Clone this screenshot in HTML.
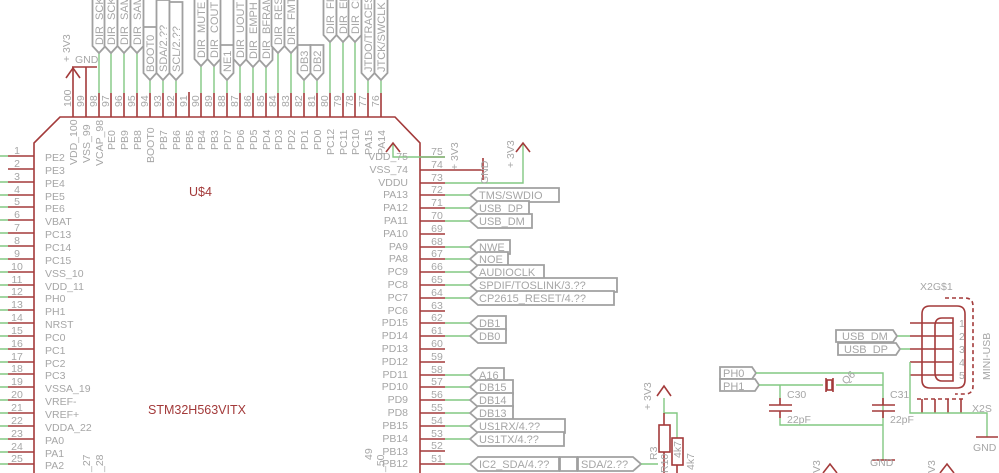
<!DOCTYPE html>
<html><head><meta charset="utf-8"><style>
html,body{margin:0;padding:0;background:#fff;}
svg{display:block;font-family:"Liberation Sans",sans-serif;}
.t{fill:#a6a6a6;font-size:10.5px;}
.n{fill:#a6a6a6;font-size:10.5px;}
.r{stroke:#a33a3a;stroke-width:1.6;fill:none;}
.g{stroke:#82c882;stroke-width:1.4;fill:none;}
.f{stroke:#a0a0a0;stroke-width:1.8;fill:#fff;}
.ft{fill:#a6a6a6;font-size:11px;}
.rt{fill:#a33a3a;font-size:12.5px;}
</style></head><body>
<svg width="999" height="473" viewBox="0 0 999 473" xmlns="http://www.w3.org/2000/svg">
<polyline class="r" points="34,473 34,143 60,117 395,117 420,143 420,473"/>

<g>
<path class="g" d="M0,156H8M0,182H8M0,195H8M0,207H8M0,220H8M0,233H8M0,246H8M0,259H8M0,272H8M0,285H8M0,297H8M0,310H8M0,323H8M0,336H8M0,349H8M0,362H8M0,374H8M0,387H8M0,400H8M0,413H8M0,426H8M0,439H8M0,452H8M0,464H8"/>
<path class="r" d="M8,156H34M8,169H34M8,182H34M8,195H34M8,207H34M8,220H34M8,233H34M8,246H34M8,259H34M8,272H34M8,285H34M8,297H34M8,310H34M8,323H34M8,336H34M8,349H34M8,362H34M8,374H34M8,387H34M8,400H34M8,413H34M8,426H34M8,439H34M8,452H34M8,464H34"/>
<g class="n" text-anchor="middle">
<text x="17" y="154">1</text><text x="17" y="167">2</text><text x="17" y="180">3</text><text x="17" y="193">4</text><text x="17" y="205">5</text><text x="17" y="218">6</text><text x="17" y="231">7</text><text x="17" y="244">8</text><text x="17" y="257">9</text><text x="17" y="270">10</text><text x="17" y="283">11</text><text x="17" y="295">12</text><text x="17" y="308">13</text><text x="17" y="321">14</text><text x="17" y="334">15</text><text x="17" y="347">16</text><text x="17" y="360">17</text><text x="17" y="372">18</text><text x="17" y="385">19</text><text x="17" y="398">20</text><text x="17" y="411">21</text><text x="17" y="424">22</text><text x="17" y="437">23</text><text x="17" y="450">24</text><text x="17" y="462">25</text>
</g>
<g class="t">
<text x="45" y="161">PE2</text><text x="45" y="174">PE3</text><text x="45" y="187">PE4</text><text x="45" y="200">PE5</text><text x="45" y="212">PE6</text><text x="45" y="225">VBAT</text><text x="45" y="238">PC13</text><text x="45" y="251">PC14</text><text x="45" y="264">PC15</text><text x="45" y="277">VSS_10</text><text x="45" y="290">VDD_11</text><text x="45" y="302">PH0</text><text x="45" y="315">PH1</text><text x="45" y="328">NRST</text><text x="45" y="341">PC0</text><text x="45" y="354">PC1</text><text x="45" y="367">PC2</text><text x="45" y="379">PC3</text><text x="45" y="392">VSSA_19</text><text x="45" y="405">VREF-</text><text x="45" y="418">VREF+</text><text x="45" y="431">VDDA_22</text><text x="45" y="444">PA0</text><text x="45" y="457">PA1</text><text x="45" y="469">PA2</text>
</g>
<g class="t">
<text transform="translate(90,472) rotate(-90)">_27</text>
<text transform="translate(103,472) rotate(-90)">_28</text>
<text transform="translate(372,460) rotate(-90)">49</text>
<text transform="translate(384,472) rotate(-90)">_50</text>
</g>
</g>

<path class="r" d="M73,93V117M86,93V117M99,93V117M111,93V117M124,93V117M137,93V117M150,93V117M163,93V117M176,93V117M189,93V117M201,93V117M214,93V117M227,93V117M240,93V117M253,93V117M266,93V117M278,93V117M291,93V117M304,93V117M317,93V117M330,93V117M343,93V117M355,93V117M368,93V117M381,93V117"/>
<path class="r" d="M73,93V68M86,93V67M189,93V92"/>
<path class="r" d="M66,78L73,68L80,78M72,67H97"/>
<path class="g" d="M99,53V93M111,53V93M124,53V93M137,53V93M150,80V93M163,80V93M176,80V93M201,66V93M214,66V93M227,80V93M240,66V93M253,67V93M266,67V93M278,53V93M291,53V93M304,80V93M317,80V93M330,42V93M343,42V93M355,42V93M368,80V93M381,80V93"/>
<text class="t" transform="translate(70,62) rotate(-90)">+ 3V3</text>
<text class="t" x="75" y="63">GND</text>
<g class="n">
<text transform="translate(71,107) rotate(-90)">100</text><text transform="translate(84,107) rotate(-90)">99</text><text transform="translate(97,107) rotate(-90)">98</text><text transform="translate(109,107) rotate(-90)">97</text><text transform="translate(122,107) rotate(-90)">96</text><text transform="translate(135,107) rotate(-90)">95</text><text transform="translate(148,107) rotate(-90)">94</text><text transform="translate(161,107) rotate(-90)">93</text><text transform="translate(174,107) rotate(-90)">92</text><text transform="translate(187,107) rotate(-90)">91</text><text transform="translate(199,107) rotate(-90)">90</text><text transform="translate(212,107) rotate(-90)">89</text><text transform="translate(225,107) rotate(-90)">88</text><text transform="translate(238,107) rotate(-90)">87</text><text transform="translate(251,107) rotate(-90)">86</text><text transform="translate(264,107) rotate(-90)">85</text><text transform="translate(276,107) rotate(-90)">84</text><text transform="translate(289,107) rotate(-90)">83</text><text transform="translate(302,107) rotate(-90)">82</text><text transform="translate(315,107) rotate(-90)">81</text><text transform="translate(328,107) rotate(-90)">80</text><text transform="translate(341,107) rotate(-90)">79</text><text transform="translate(353,107) rotate(-90)">78</text><text transform="translate(366,107) rotate(-90)">77</text><text transform="translate(379,107) rotate(-90)">76</text>
</g>
<g class="t">
<text transform="translate(77,165) rotate(-90)">VDD_100</text><text transform="translate(90,163) rotate(-90)">VSS_99</text><text transform="translate(103,166) rotate(-90)">VCAP_98</text><text transform="translate(115,150) rotate(-90)">PE0</text><text transform="translate(128,150) rotate(-90)">PB9</text><text transform="translate(141,150) rotate(-90)">PB8</text><text transform="translate(154,163) rotate(-90)">BOOT0</text><text transform="translate(167,150) rotate(-90)">PB7</text><text transform="translate(180,150) rotate(-90)">PB6</text><text transform="translate(193,150) rotate(-90)">PB5</text><text transform="translate(205,150) rotate(-90)">PB4</text><text transform="translate(218,150) rotate(-90)">PB3</text><text transform="translate(231,150) rotate(-90)">PD7</text><text transform="translate(244,150) rotate(-90)">PD6</text><text transform="translate(257,150) rotate(-90)">PD5</text><text transform="translate(270,150) rotate(-90)">PD4</text><text transform="translate(282,150) rotate(-90)">PD3</text><text transform="translate(295,150) rotate(-90)">PD2</text><text transform="translate(308,150) rotate(-90)">PD1</text><text transform="translate(321,150) rotate(-90)">PD0</text><text transform="translate(334,155) rotate(-90)">PC12</text><text transform="translate(347,155) rotate(-90)">PC11</text><text transform="translate(359,155) rotate(-90)">PC10</text><text transform="translate(372,155) rotate(-90)">PA15</text><text transform="translate(385,155) rotate(-90)">PA14</text>
</g>
<g class="f">
<polygon points="92.5,-2 105.5,-2 105.5,46 99,53 92.5,46"/>
<polygon points="104.5,-2 117.5,-2 117.5,46 111,53 104.5,46"/>
<polygon points="117.5,-2 130.5,-2 130.5,46 124,53 117.5,46"/>
<polygon points="130.5,-2 143.5,-2 143.5,46 137,53 130.5,46"/>
<polygon points="143.5,27 156.5,27 156.5,73 150,80 143.5,73"/>
<polygon points="156.5,0 169.5,0 169.5,73 163,80 156.5,73"/>
<polygon points="169.5,2 182.5,2 182.5,73 176,80 169.5,73"/>
<polygon points="194.5,-2 207.5,-2 207.5,59 201,66 194.5,59"/>
<polygon points="207.5,-2 220.5,-2 220.5,59 214,66 207.5,59"/>
<polygon points="220.5,45 233.5,45 233.5,73 227,80 220.5,73"/>
<polygon points="233.5,-2 246.5,-2 246.5,59 240,66 233.5,59"/>
<polygon points="246.5,-2 259.5,-2 259.5,60 253,67 246.5,60"/>
<polygon points="259.5,-2 272.5,-2 272.5,60 266,67 259.5,60"/>
<polygon points="271.5,-2 284.5,-2 284.5,46 278,53 271.5,46"/>
<polygon points="284.5,-2 297.5,-2 297.5,46 291,53 284.5,46"/>
<polygon points="297.5,45 310.5,45 310.5,73 304,80 297.5,73"/>
<polygon points="310.5,45 323.5,45 323.5,73 317,80 310.5,73"/>
<polygon points="323.5,-2 336.5,-2 336.5,35 330,42 323.5,35"/>
<polygon points="336.5,-2 349.5,-2 349.5,35 343,42 336.5,35"/>
<polygon points="348.5,-2 361.5,-2 361.5,35 355,42 348.5,35"/>
<polygon points="361.5,-2 374.5,-2 374.5,73 368,80 361.5,73"/>
<polygon points="374.5,-2 387.5,-2 387.5,73 381,80 374.5,73"/>
</g>
<g class="ft">
<text transform="translate(103,45) rotate(-90)">DIR_SCK</text><text transform="translate(115,45) rotate(-90)">DIR_SCK</text><text transform="translate(128,45) rotate(-90)">DIR_SAM</text><text transform="translate(141,45) rotate(-90)">DIR_SAM</text>
<text transform="translate(154,72) rotate(-90)">BOOT0</text><text transform="translate(167,72) rotate(-90)">SDA/2.??</text><text transform="translate(180,72) rotate(-90)">SCL/2.??</text>
<text transform="translate(205,58) rotate(-90)">DIR_MUTE</text><text transform="translate(218,58) rotate(-90)">DIR_COUT</text><text transform="translate(231,72) rotate(-90)">NE1</text><text transform="translate(244,58) rotate(-90)">DIR_UOUT</text><text transform="translate(257,59) rotate(-90)">DIR_EMPH</text><text transform="translate(270,59) rotate(-90)">DIR_BFRAM</text><text transform="translate(282,45) rotate(-90)">DIR_RES</text><text transform="translate(295,45) rotate(-90)">DIR_FMT</text>
<text transform="translate(308,72) rotate(-90)">DB3</text><text transform="translate(321,72) rotate(-90)">DB2</text>
<text transform="translate(334,34) rotate(-90)">DIR_FIFO</text><text transform="translate(347,34) rotate(-90)">DIR_ERR</text><text transform="translate(359,34) rotate(-90)">DIR_CLK</text>
<text transform="translate(372,72) rotate(-90)">JTDO/TRACESWO</text><text transform="translate(385,72) rotate(-90)">JTCK/SWCLK</text>
</g>

<path class="r" d="M420,157H445M420,170H445M420,183H445M420,195H445M420,208H445M420,221H445M420,234H445M420,247H445M420,259H445M420,272H445M420,285H445M420,298H445M420,311H445M420,323H445M420,336H445M420,349H445M420,362H445M420,375H445M420,387H445M420,400H445M420,413H445M420,426H445M420,439H445M420,451H445M420,464H445"/>
<path class="r" d="M445,170H483M483,158V180"/>
<path class="g" d="M445,157H393V143M445,183H523V143M445,195H470M445,208H470M445,221H470M445,247H470M445,259H470M445,272H470M445,285H470M445,298H470M445,323H470M445,336H470M445,375H470M445,387H470M445,400H470M445,413H470M445,426H470M445,439H470M445,464H470"/>
<path class="r" d="M386,152L393,143L400,152M516,152L523,143L530,152"/>
<text class="t" transform="translate(458,170) rotate(-90)">+ 3V3</text>
<text class="t" transform="translate(514,168) rotate(-90)">+ 3V3</text>
<text class="t" transform="translate(488,184) rotate(-90)">GND</text>
<g class="n" text-anchor="middle">
<text x="437" y="155">75</text><text x="437" y="168">74</text><text x="437" y="181">73</text><text x="437" y="193">72</text><text x="437" y="206">71</text><text x="437" y="219">70</text><text x="437" y="232">69</text><text x="437" y="245">68</text><text x="437" y="257">67</text><text x="437" y="270">66</text><text x="437" y="283">65</text><text x="437" y="296">64</text><text x="437" y="309">63</text><text x="437" y="321">62</text><text x="437" y="334">61</text><text x="437" y="347">60</text><text x="437" y="360">59</text><text x="437" y="373">58</text><text x="437" y="385">57</text><text x="437" y="398">56</text><text x="437" y="411">55</text><text x="437" y="424">54</text><text x="437" y="437">53</text><text x="437" y="449">52</text><text x="437" y="462">51</text>
</g>
<g class="t" text-anchor="end">
<text x="408" y="160">VDD_75</text><text x="408" y="173">VSS_74</text><text x="408" y="186">VDDU</text><text x="408" y="198">PA13</text><text x="408" y="211">PA12</text><text x="408" y="224">PA11</text><text x="408" y="237">PA10</text><text x="408" y="250">PA9</text><text x="408" y="262">PA8</text><text x="408" y="275">PC9</text><text x="408" y="288">PC8</text><text x="408" y="301">PC7</text><text x="408" y="314">PC6</text><text x="408" y="326">PD15</text><text x="408" y="339">PD14</text><text x="408" y="352">PD13</text><text x="408" y="365">PD12</text><text x="408" y="378">PD11</text><text x="408" y="390">PD10</text><text x="408" y="403">PD9</text><text x="408" y="416">PD8</text><text x="408" y="429">PB15</text><text x="408" y="442">PB14</text><text x="408" y="455">PB13</text><text x="408" y="467">PB12</text>
</g>
<g class="f">
<polygon points="470,195 478,188 559,188 559,202 478,202"/>
<polygon points="470,208 478,201 529,201 529,215 478,215"/>
<polygon points="470,221 478,214 532,214 532,228 478,228"/>
<polygon points="470,247 478,240 510,240 510,254 478,254"/>
<polygon points="470,259 478,252 508,252 508,266 478,266"/>
<polygon points="470,272 478,265 544,265 544,279 478,279"/>
<polygon points="470,285 478,278 617,278 617,292 478,292"/>
<polygon points="470,298 478,291 614,291 614,305 478,305"/>
<polygon points="470,323 478,316 506,316 506,330 478,330"/>
<polygon points="470,336 478,329 506,329 506,343 478,343"/>
<polygon points="470,375 478,368 504,368 504,382 478,382"/>
<polygon points="470,387 478,380 513,380 513,394 478,394"/>
<polygon points="470,400 478,393 513,393 513,407 478,407"/>
<polygon points="470,413 478,406 513,406 513,420 478,420"/>
<polygon points="470,426 478,419 565,419 565,433 478,433"/>
<polygon points="470,439 478,432 564,432 564,446 478,446"/>
<polygon points="470,464 478,457 559,457 559,471 478,471"/>
<polygon points="560,457 577,457 577,471 560,471"/>
<polygon points="578,457 633,457 641,464 633,471 578,471"/>
</g>
<g class="ft">
<text x="479" y="199">TMS/SWDIO</text><text x="479" y="212">USB_DP</text><text x="479" y="225">USB_DM</text><text x="479" y="251">NWE</text><text x="479" y="263">NOE</text><text x="479" y="276">AUDIOCLK</text><text x="479" y="289">SPDIF/TOSLINK/3.??</text><text x="479" y="302">CP2615_RESET/4.??</text><text x="479" y="327">DB1</text><text x="479" y="340">DB0</text><text x="479" y="379">A16</text><text x="479" y="391">DB15</text><text x="479" y="404">DB14</text><text x="479" y="417">DB13</text><text x="479" y="430">US1RX/4.??</text><text x="479" y="443">US1TX/4.??</text><text x="479" y="468">IC2_SDA/4.??</text><text x="581" y="468">SDA/2.??</text>
</g>
<text class="rt" x="189" y="196">U$4</text>
<text class="rt" x="148" y="414">STM32H563VITX</text>

<path class="g" d="M641,464H658M664,398V413H677V438"/>
<path class="r" d="M657,396L664,386L671,396M664,413V425M664,452V473M677,465V473"/>
<rect class="r" x="659" y="425" width="11" height="27"/>
<rect class="r" x="672" y="438" width="11" height="27"/>
<text class="t" transform="translate(651,410) rotate(-90)">+ 3V3</text>
<g class="t">
<text transform="translate(657,460) rotate(-90)">R3</text>
<text transform="translate(668,473) rotate(-90)">R10</text>
<text transform="translate(681,458) rotate(-90)">4k7</text>
<text transform="translate(694,470) rotate(-90)">4k7</text>
</g>

<g class="f">
<polygon points="720,367 752,367 756,373 752,379 720,379"/>
<polygon points="720,379 755,379 759,385 755,391 720,391"/>
</g>
<g class="ft"><text x="723" y="377">PH0</text><text x="723" y="390">PH1</text></g>
<path class="g" d="M756,373H883V460M759,385H823M836,385H883M780,385V398M780,418V425H883"/>
<path class="r" d="M769,405H792M769,411H792M872,405H895M872,411H895M826,378V392M833,378V392M872,460H895M780,398V405M780,411V418M883,398V405M883,411V418"/>
<rect class="r" x="827" y="380" width="5" height="10"/>
<text class="t" x="787" y="398">C30</text><text class="t" x="787" y="423">22pF</text>
<text class="t" x="890" y="398">C31</text><text class="t" x="890" y="423">22pF</text>
<text class="t" transform="translate(846,385) rotate(-45)">Q6</text>
<text class="t" x="870" y="466">GND</text>

<text class="t" x="920" y="290">X2G$1</text>
<path d="M945,298H965Q973,298 973,306V386Q973,394 965,394H955" stroke="#a33a3a" stroke-width="1.6" fill="none" stroke-dasharray="4,3"/>
<path class="r" d="M930,306H957Q965,306 965,314V380Q965,388 957,388H930Q922,388 922,380V314Q922,306 930,306Z"/>
<path class="r" d="M953,318H942Q935,318 935,326V372Q935,381 942,381H953Z"/>
<path class="r" d="M910,323H953M910,336H953M910,349H953M910,362H953M910,375H953M922,399V413M935,399V413M948,399V413M961,399V413"/>
<path d="M917,399H966" stroke="#a33a3a" stroke-width="1.6" stroke-dasharray="4,3"/>
<g class="n"><text x="959" y="327">1</text><text x="959" y="340">2</text><text x="959" y="353">3</text><text x="959" y="366">4</text><text x="959" y="379">5</text></g>
<text class="t" transform="translate(990,380) rotate(-90)">MINI-USB</text>
<text class="t" x="972" y="412">X2S</text>
<path class="g" d="M896,336H910M896,349H910M910,362V413H987V437"/>
<path class="r" d="M976,437H998"/>
<text class="t" x="973" y="451">GND</text>
<g class="f">
<polygon points="836,330 893,330 897,336 893,342 836,342"/>
<polygon points="838,343 896,343 900,349 896,355 838,355"/>
</g>
<g class="ft"><text x="842" y="340">USB_DM</text><text x="844" y="353">USB_DP</text></g>

<text class="t" transform="translate(820,473) rotate(-90)">V3</text>
<text class="t" transform="translate(935,473) rotate(-90)">V3</text>
<path class="r" d="M823,473L830,464L837,473M940,473L947,464L954,473"/>
</svg>
</body></html>
